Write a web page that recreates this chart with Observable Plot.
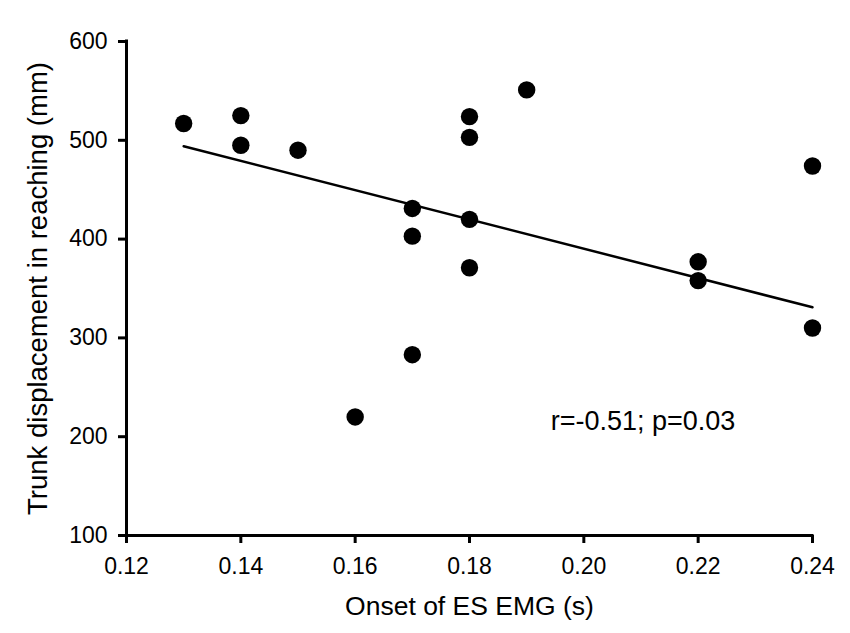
<!DOCTYPE html>
<html>
<head>
<meta charset="utf-8">
<script src="https://cdn.jsdelivr.net/npm/d3@7"></script>
<script src="https://cdn.jsdelivr.net/npm/@observablehq/plot@0.6"></script>
<style>
  html, body { margin: 0; padding: 0; background: #fff; }
  #chart svg { display: block; }
</style>
</head>
<body>
<div id="chart"></div>
<script>
// Data
const onsetES = [0.13, 0.14, 0.14, 0.15, 0.16, 0.17, 0.17, 0.17, 0.18, 0.18, 0.18, 0.18, 0.19, 0.22, 0.22, 0.24, 0.24];
const trunkDisp = [517, 525, 495, 490, 220, 431, 403, 283, 524, 503, 420, 371, 551, 377, 358, 474, 310];

// Fitted line endpoints as drawn in the reference
const fitX = [0.13, 0.24];
const fitY = [494, 331];

const xTicks = [0.12, 0.14, 0.16, 0.18, 0.20, 0.22, 0.24];
const yTicks = [100, 200, 300, 400, 500, 600];

const xTitle = "Onset of ES EMG (s)";
const yTitle = "Trunk displacement in reaching (mm)";
const annotation = "r=-0.51; p=0.03";
const annotX = 0.1942;
const annotY = 216;

const points = onsetES.map((x, i) => ({x, y: trunkDisp[i]}));
const fit = fitX.map((x, i) => ({x, y: fitY[i]}));

const font = "'Liberation Sans', Arial, sans-serif";

const chart = Plot.plot({
  width: 850,
  height: 633,
  marginLeft: 126,
  marginRight: 38,
  marginTop: 41,
  marginBottom: 98,
  style: {fontFamily: font, background: "white", color: "black"},
  x: {domain: [0.12, 0.24]},
  y: {domain: [100, 600]},
  marks: [
    Plot.axisX({ticks: xTicks, tickFormat: d3.format(".2f"), tickSize: 8, tickPadding: 14, strokeWidth: 3, fontSize: 23, label: null}),
    Plot.axisY({ticks: yTicks, tickFormat: d3.format("d"), tickSize: 8, tickPadding: 11, strokeWidth: 3, fontSize: 23, label: null}),
    Plot.ruleX([0.12], {y1: 100, y2: 600, stroke: "black", strokeWidth: 3, strokeLinecap: "square"}),
    Plot.ruleY([100], {x1: 0.12, x2: 0.24, stroke: "black", strokeWidth: 3, strokeLinecap: "square"}),
    Plot.line(fit, {x: "x", y: "y", stroke: "black", strokeWidth: 2.5}),
    Plot.dot(points, {x: "x", y: "y", r: 8.7, fill: "black", stroke: null}),
    Plot.text([annotation], {x: annotX, y: annotY, text: d => d, textAnchor: "start", fontSize: 27, fill: "black"}),
    Plot.text([xTitle], {frameAnchor: "bottom", dy: 79.5, text: d => d, textAnchor: "middle", fontSize: 26.5, fill: "black"}),
    Plot.text([yTitle], {frameAnchor: "left", dx: -88, rotate: -90, text: d => d, textAnchor: "middle", fontSize: 27.5, fill: "black"})
  ]
});
document.getElementById("chart").appendChild(chart);
</script>
</body>
</html>
